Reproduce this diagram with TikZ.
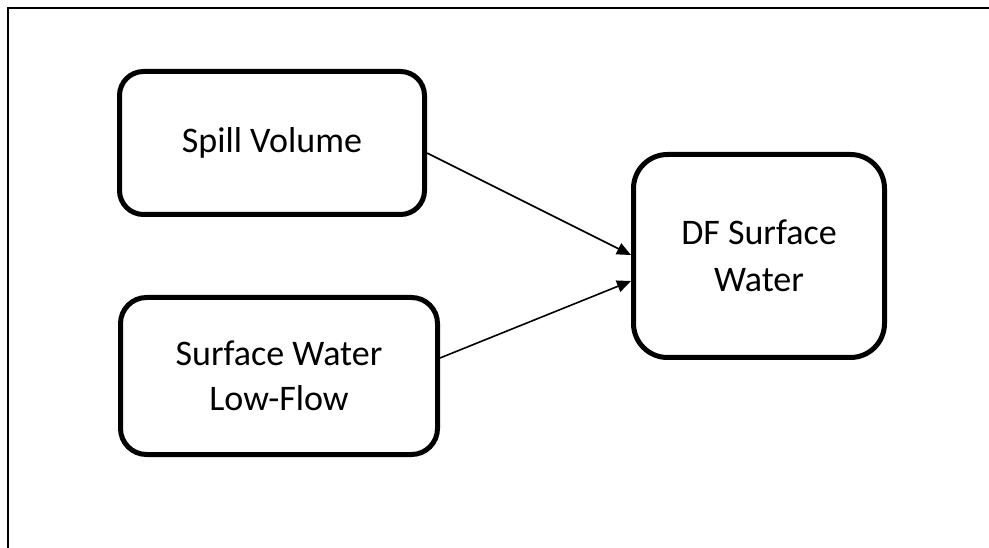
\documentclass[tikz,border=0pt]{standalone}
\usepackage{fontspec}
\setmainfont{Carlito}
\usetikzlibrary{arrows.meta}
\begin{document}
\begin{tikzpicture}[x=1pt,y=-1pt,
  box/.style={draw=black,line width=5pt,fill=white,align=center,inner sep=0pt,
    font=\fontsize{36}{45}\selectfont},
  conn/.style={line width=1.6pt,-{Triangle[length=14pt,width=12pt]}}]
\useasboundingbox (0,0) rectangle (989,548);
\clip (0,0) rectangle (989,548);
\fill[white] (0,0) rectangle (989,548);
\draw[line width=2pt] (8,560) -- (8,8) -- (1000,8);
\node[box,minimum width=305pt,minimum height=143pt,rounded corners=24pt] (b1) at (272,143) {Spill Volume};
\node[box,minimum width=317pt,minimum height=157pt,rounded corners=26pt] (b2) at (279,376) {Surface Water\\Low-Flow};
\node[box,minimum width=251pt,minimum height=203pt,rounded corners=34pt,font=\fontsize{36}{47}\selectfont] (b3) at (759,256) {DF Surface\\Water};
\draw[conn] ([yshift=-10pt]b1.east) -- ([yshift=1pt]b3.west);
\draw[conn] ([yshift=18pt]b2.east) -- ([yshift=-25pt]b3.west);
\end{tikzpicture}
\end{document}
